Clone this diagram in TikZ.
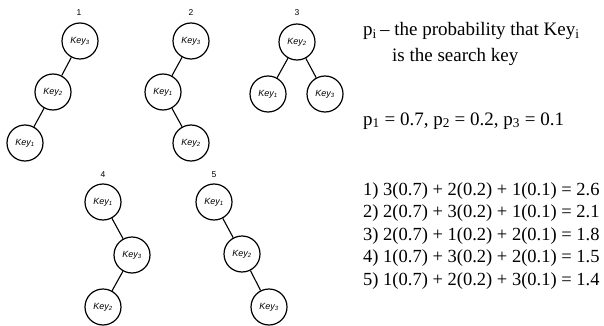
\documentclass[tikz,border=0pt]{standalone}
\usepackage{fontspec}
\setmainfont{Liberation Serif}
\setsansfont{Liberation Sans}
\usetikzlibrary{positioning}

\begin{document}
\begin{tikzpicture}[x=1pt, y=-1pt,
  keynode/.style={draw, circle, line width=1.2pt, minimum size=36pt, inner sep=0pt,
    font=\sffamily\itshape\fontsize{9}{10}\selectfont},
  treeno/.style={inner sep=1pt, font=\sffamily\fontsize{8.5}{9}\selectfont},
  link/.style={line width=1.1pt},
  txt/.style={anchor=base west, inner sep=0pt, font=\fontsize{19}{22}\selectfont},
  eqtxt/.style={txt, font=\fontsize{18.5}{22}\selectfont}]
  \useasboundingbox (0,0) rectangle (604,326);

  % tree 1: Key3 -> Key2 -> Key1
  \node[treeno] (no1) at (79,13) {1};
  \node[keynode] (a3) at (80,41) {Key\textsubscript{3}};
  \node[keynode] (a2) at (53,92) {Key\textsubscript{2}};
  \node[keynode] (a1) at (25,143) {Key\textsubscript{1}};
  \draw[link] (a3) -- (a2);
  \draw[link] (a2) -- (a1);

  % tree 2
  \node[treeno] (no2) at (191,13) {2};
  \node[keynode] (b3) at (191,41) {Key\textsubscript{3}};
  \node[keynode] (b1) at (163,92) {Key\textsubscript{1}};
  \node[keynode] (b2) at (191,143) {Key\textsubscript{2}};
  \draw[link] (b3) -- (b1);
  \draw[link] (b1) -- (b2);

  % tree 3 (balanced)
  \node[treeno] (no3) at (297,13) {3};
  \node[keynode] (c2) at (297,42) {Key\textsubscript{2}};
  \node[keynode] (c1) at (268,94) {Key\textsubscript{1}};
  \node[keynode] (c3) at (325,94) {Key\textsubscript{3}};
  \draw[link] (c2) -- (c1);
  \draw[link] (c2) -- (c3);

  % tree 4
  \node[treeno] (no4) at (103,175) {4};
  \node[keynode] (d1) at (103,202) {Key\textsubscript{1}};
  \node[keynode] (d3) at (132,255) {Key\textsubscript{3}};
  \node[keynode] (d2) at (103,307) {Key\textsubscript{2}};
  \draw[link] (d1) -- (d3);
  \draw[link] (d3) -- (d2);

  % tree 5
  \node[treeno] (no5) at (214,175) {5};
  \node[keynode] (e1) at (214,202) {Key\textsubscript{1}};
  \node[keynode] (e2) at (242,254) {Key\textsubscript{2}};
  \node[keynode] (e3) at (269,307) {Key\textsubscript{3}};
  \draw[link] (e1) -- (e2);
  \draw[link] (e2) -- (e3);

  % text on the right
  \node[txt] (def1) at (363,36) {p\textsubscript{i}\,– the probability that Key\textsubscript{i}};
  \node[txt] (def2) at (392,62) {is the search key};
  \node[txt] (probs) at (363,125) {p\textsubscript{1} = 0.7, p\textsubscript{2} = 0.2, p\textsubscript{3} = 0.1};
  \foreach \eq [count=\i] in {3(0.7) + 2(0.2) + 1(0.1) = 2.6,
                              2(0.7) + 3(0.2) + 1(0.1) = 2.1,
                              2(0.7) + 1(0.2) + 2(0.1) = 1.8,
                              1(0.7) + 3(0.2) + 2(0.1) = 1.5,
                              1(0.7) + 2(0.2) + 3(0.1) = 1.4}
    \node[eqtxt] (eq\i) at (363,{195+22.6*(\i-1)}) {\i) \eq};
\end{tikzpicture}
\end{document}
